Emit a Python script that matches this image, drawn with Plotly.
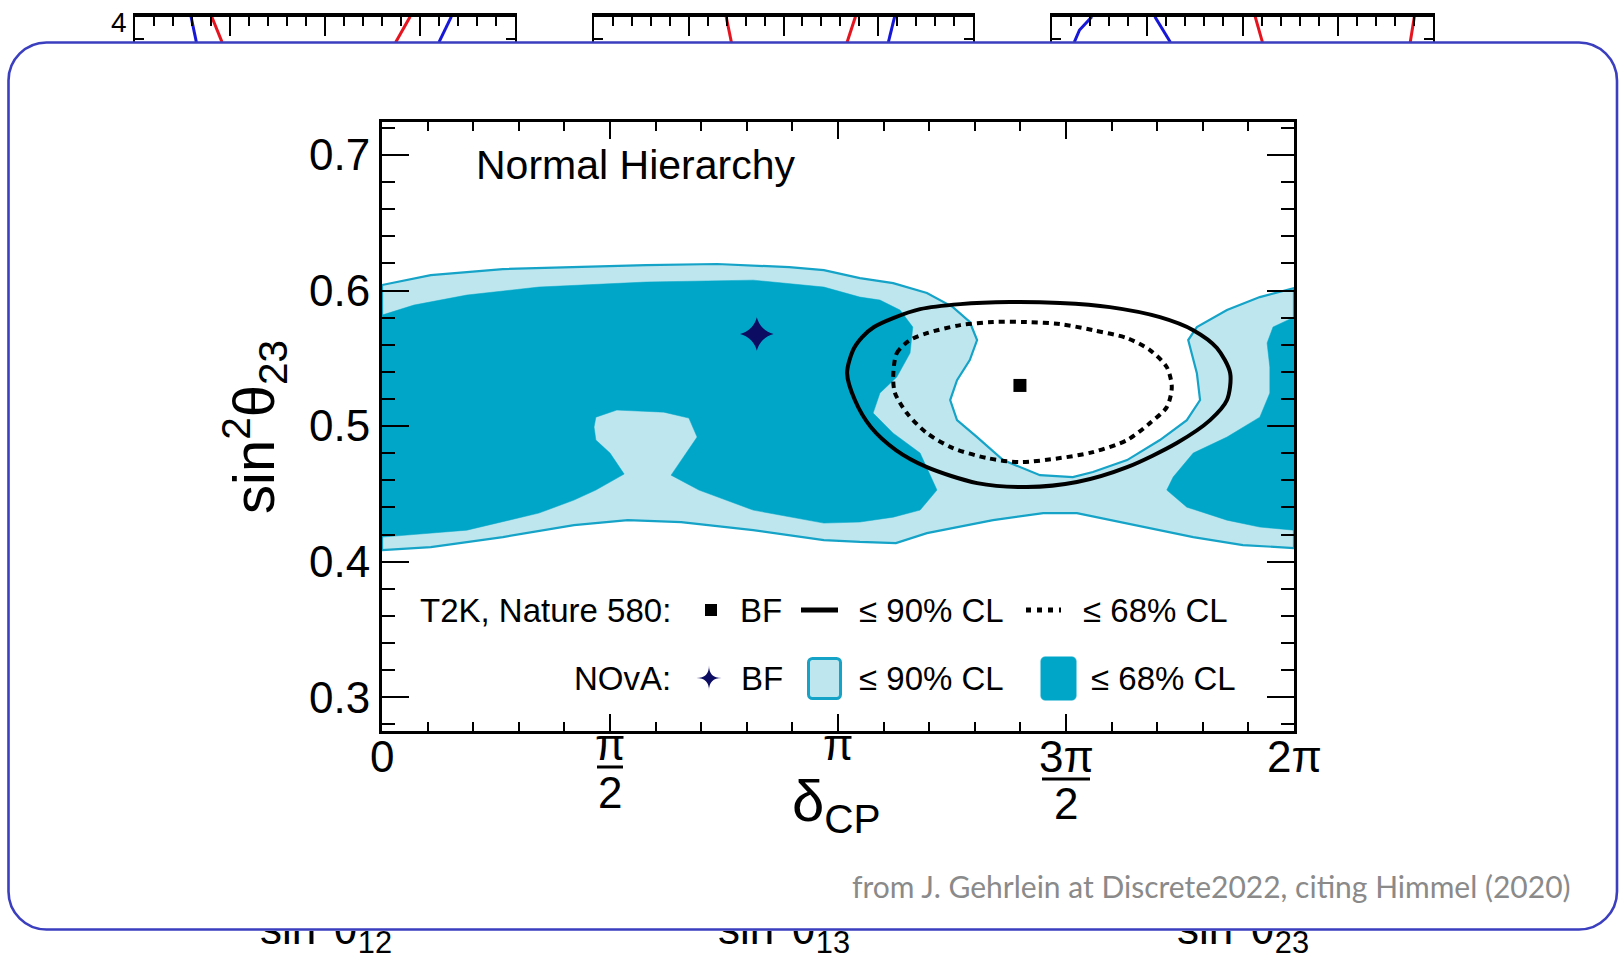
import numpy as np
import plotly.graph_objects as go

W, H = 1619, 964
SANS = "Liberation Sans, Arial, Helvetica, sans-serif"

# ---------------- NOvA 2020, normal hierarchy (delta_CP in units of pi) ----------------
# <= 90% CL band: upper edge left->right, then lower edge right->left
nova90_dcp = [0.0, 0.107, 0.265, 0.421, 0.579, 0.735, 0.893, 0.969, 1.048, 1.121, 1.195,
              1.252, 1.289, 1.305, 1.289, 1.261, 1.246, 1.261, 1.305, 1.362, 1.443, 1.515,
              1.559, 1.634, 1.706, 1.765, 1.794, 1.787, 1.768, 1.787, 1.853, 1.925, 2.0,
              2.0, 1.888, 1.779, 1.634, 1.524, 1.450, 1.340, 1.195, 1.127, 1.048, 0.969,
              0.814, 0.656, 0.539, 0.421, 0.265, 0.107, 0.0, 0.0]
nova90_s23 = [0.6041, 0.6114, 0.6159, 0.6173, 0.6188, 0.6196, 0.6173, 0.6151, 0.6092, 0.6055, 0.5982,
              0.5878, 0.5768, 0.5635, 0.5487, 0.5339, 0.5192, 0.5044, 0.4919, 0.4749, 0.4638, 0.4624,
              0.4661, 0.4749, 0.4897, 0.5044, 0.5192, 0.5391, 0.5635, 0.5731, 0.5856, 0.5952, 0.6018,
              0.4100, 0.4122, 0.4181, 0.4284, 0.4358, 0.4358, 0.4306, 0.4210, 0.4137, 0.4145, 0.4159,
              0.4232, 0.4292, 0.4306, 0.4269, 0.4181, 0.4107, 0.4085, 0.6041]

# <= 68% CL, main island
nova68a_dcp = [0.0, 0.070, 0.186, 0.344, 0.579, 0.814, 0.969, 1.048, 1.092, 1.136, 1.164,
               1.158, 1.129, 1.092, 1.077, 1.121, 1.180, 1.217, 1.180, 1.121, 1.048, 0.969,
               0.814, 0.695, 0.634, 0.664, 0.691, 0.673, 0.618, 0.515, 0.469, 0.465, 0.469,
               0.500, 0.531, 0.469, 0.421, 0.344, 0.186, 0.0]
nova68a_s23 = [0.5819, 0.5893, 0.5967, 0.6026, 0.6063, 0.6077, 0.6026, 0.5952, 0.5930, 0.5856, 0.5731,
               0.5539, 0.5362, 0.5244, 0.5096, 0.4948, 0.4801, 0.4528, 0.4380, 0.4328, 0.4292, 0.4284,
               0.4380, 0.4528, 0.4638, 0.4786, 0.4919, 0.5059, 0.5103, 0.5118, 0.5066, 0.4993, 0.4897,
               0.4801, 0.4646, 0.4528, 0.4454, 0.4358, 0.4232, 0.4181]

# <= 68% CL, island wrapping around 2 pi
nova68b_dcp = [2.0, 1.954, 1.941, 1.947, 1.947, 1.925, 1.853, 1.779, 1.735, 1.721, 1.765, 1.853, 1.925, 2.0]
nova68b_s23 = [0.5804, 0.5731, 0.5613, 0.5435, 0.5244, 0.5066, 0.4919, 0.4801, 0.4624, 0.4528,
               0.4402, 0.4306, 0.4255, 0.4232]

# ---------------- T2K, Nature 580 ----------------
t2k90_dcp = [1.020, 1.033, 1.053, 1.079, 1.121, 1.180, 1.268, 1.377, 1.487, 1.596, 1.706, 1.779,
             1.831, 1.860, 1.853, 1.816, 1.743, 1.634, 1.524, 1.414, 1.305, 1.195, 1.127, 1.072,
             1.037, 1.020]
t2k90_s23 = [0.5391, 0.5561, 0.5657, 0.5731, 0.5797, 0.5863, 0.5900, 0.5915, 0.5908, 0.5878, 0.5804, 0.5708,
             0.5576, 0.5391, 0.5192, 0.5044, 0.4875, 0.4697, 0.4587, 0.4550, 0.4579, 0.4697, 0.4823, 0.4993,
             0.5192, 0.5391]

t2k68_dcp = [1.121, 1.129, 1.158, 1.195, 1.268, 1.340, 1.414, 1.487, 1.559, 1.634, 1.684, 1.721,
             1.732, 1.721, 1.684, 1.634, 1.559, 1.487, 1.399, 1.327, 1.252, 1.195, 1.151, 1.125, 1.121]
t2k68_s23 = [0.5362, 0.5539, 0.5635, 0.5686, 0.5745, 0.5768, 0.5768, 0.5753, 0.5708, 0.5649, 0.5561, 0.5435,
             0.5288, 0.5140, 0.5022, 0.4897, 0.4808, 0.4764, 0.4734, 0.4764, 0.4838, 0.4948, 0.5096, 0.5244, 0.5362]

nova_bf_dcp, nova_bf_s23 = [0.822], [0.568]
t2k_bf_dcp, t2k_bf_s23 = [1.399], [0.530]

# ---------------- axes ----------------
S23_RANGE = [0.275, 0.7244]
S23_TICKS = [0.3, 0.4, 0.5, 0.6, 0.7]
DCP_MAJOR = [0.0, 0.5, 1.0, 1.5, 2.0]   # units of pi

# ---------------- 1D delta-chi2 panels along the top edge ----------------
top_panels = [
    dict(rng=[0.20, 0.40], dtick=0.05, minor=0.01,
         curves=[("blue", [0.2295, 0.2323], [4.0, 3.72]),
                 ("red", [0.2404, 0.2458], [4.0, 3.72]),
                 ("red", [0.3448, 0.3372], [4.0, 3.72]),
                 ("blue", [0.3665, 0.3600], [4.0, 3.72])]),
    dict(rng=[0.00, 0.04], dtick=0.01, minor=0.002,
         curves=[("red", [0.01395, 0.01450], [4.0, 3.72]),
                 ("red", [0.02759, 0.02671], [4.0, 3.72]),
                 ("blue", [0.03173, 0.03107], [4.0, 3.72])]),
    dict(rng=[0.30, 0.70], dtick=0.1, minor=0.02,
         curves=[("blue", [0.3419, 0.3289, 0.3234], [4.0, 3.854, 3.72]),
                 ("blue", [0.4080, 0.4243], [4.0, 3.72]),
                 ("red", [0.5133, 0.5209], [4.0, 3.72]),
                 ("red", [0.6804, 0.6761], [4.0, 3.72])]),
]
top_panel_px = [(135, 515), (594, 973), (1052, 1433)]
DCHI2_RANGE = [3.7165, 4.0]
bottom_titles = ["sin<sup>2</sup>θ<sub>12</sub>", "sin<sup>2</sup>θ<sub>13</sub>", "sin<sup>2</sup>θ<sub>23</sub>"]
bottom_title_x = [326, 784, 1243]

NOVA_DARK = "#00a6c8"
NOVA_LIGHT = "#bde6ef"
NOVA_EDGE = "#15a3c7"
STAR_BLUE = "#0c0c62"
CARD_BLUE = "#3b3fbf"
LINE_COLORS = {"red": "#e5141e", "blue": "#1717d8"}


def fx(px):
    return px / W


def fy(py):
    return 1 - py / H


pi = np.pi
fig = go.Figure()

# ---- main panel ----
fig.add_trace(go.Scatter(x=np.array(nova90_dcp) * pi, y=nova90_s23, mode="lines", fill="toself",
                         fillcolor=NOVA_LIGHT, line=dict(color=NOVA_EDGE, width=2.2),
                         hoverinfo="skip", showlegend=False))
for dcp, s23 in [(nova68a_dcp, nova68a_s23), (nova68b_dcp, nova68b_s23)]:
    fig.add_trace(go.Scatter(x=np.array(dcp) * pi, y=s23, mode="lines", fill="toself",
                             fillcolor=NOVA_DARK, line=dict(color=NOVA_DARK, width=0.5),
                             hoverinfo="skip", showlegend=False))
fig.add_trace(go.Scatter(x=np.array(t2k90_dcp) * pi, y=t2k90_s23, mode="lines",
                         line=dict(color="black", width=4, shape="spline", smoothing=0.8),
                         hoverinfo="skip", showlegend=False))
fig.add_trace(go.Scatter(x=np.array(t2k68_dcp) * pi, y=t2k68_s23, mode="lines",
                         line=dict(color="black", width=4, dash="6px,5px", shape="spline", smoothing=0.8),
                         hoverinfo="skip", showlegend=False))
fig.add_trace(go.Scatter(x=np.array(t2k_bf_dcp) * pi, y=t2k_bf_s23, mode="markers",
                         marker=dict(symbol="square", size=13, color="black"),
                         hoverinfo="skip", showlegend=False))
fig.add_trace(go.Scatter(x=np.array(nova_bf_dcp) * pi, y=nova_bf_s23, mode="markers",
                         marker=dict(symbol="star-diamond", size=24, color=STAR_BLUE, line=dict(width=0)),
                         hoverinfo="skip", showlegend=False))

main_x = dict(domain=[fx(382), fx(1294)], range=[0, 2 * pi], showline=True, linewidth=3,
              linecolor="black", mirror="ticks", ticks="inside", tickmode="array",
              tickvals=[v * pi for v in DCP_MAJOR], ticklen=17, tickwidth=2, tickcolor="black",
              showticklabels=False, showgrid=False, zeroline=False, fixedrange=True,
              minor=dict(tickmode="linear", tick0=0, dtick=pi / 10, ticks="inside", ticklen=9,
                         tickwidth=2, tickcolor="black", showgrid=False))
main_y = dict(domain=[fy(731), fy(122)], range=S23_RANGE, showline=True, linewidth=3,
              linecolor="black", mirror="ticks", ticks="inside", tickmode="array",
              tickvals=S23_TICKS, ticktext=[f"{v:.1f}" for v in S23_TICKS], ticklen=27,
              tickwidth=2, tickcolor="black", showgrid=False, zeroline=False, fixedrange=True,
              tickfont=dict(family=SANS, size=44, color="black"),
              minor=dict(tickmode="linear", tick0=0.3, dtick=0.02, ticks="inside", ticklen=13,
                         tickwidth=2, tickcolor="black", showgrid=False))

layout_axes = {"xaxis": main_x, "yaxis": main_y}

# ---- top strip of delta-chi2 panels ----
for i, (panel, (x0, x1)) in enumerate(zip(top_panels, top_panel_px)):
    n = i + 3
    for color, xs, ys in panel["curves"]:
        fig.add_trace(go.Scatter(x=xs, y=ys, mode="lines", xaxis=f"x{n}", yaxis=f"y{n}",
                                 line=dict(color=LINE_COLORS[color], width=3),
                                 hoverinfo="skip", showlegend=False))
    layout_axes[f"xaxis{n}"] = dict(domain=[fx(x0), fx(x1)], range=panel["rng"], side="top",
                                    anchor=f"y{n}", showline=True, linewidth=3.5, linecolor="black",
                                    ticks="inside", tickmode="linear", tick0=0, dtick=panel["dtick"],
                                    ticklen=19, tickwidth=2, tickcolor="black", showticklabels=False,
                                    showgrid=False, zeroline=False, fixedrange=True,
                                    minor=dict(tickmode="linear", tick0=0, dtick=panel["minor"],
                                               ticks="inside", ticklen=9, tickwidth=2,
                                               tickcolor="black", showgrid=False))
    layout_axes[f"yaxis{n}"] = dict(domain=[fy(42.5), fy(16.7)], range=DCHI2_RANGE, anchor=f"x{n}",
                                    showline=True, linewidth=2.2, linecolor="black", mirror="ticks",
                                    ticks="inside", tickmode="linear", tick0=0, dtick=1, ticklen=12,
                                    tickwidth=2, tickcolor="black", showticklabels=False,
                                    showgrid=False, zeroline=False, fixedrange=True,
                                    minor=dict(tickmode="linear", tick0=0, dtick=0.25, ticks="inside",
                                               ticklen=9, tickwidth=2, tickcolor="black",
                                               showgrid=False))

# ---- titles of the lower panels, partly hidden behind the card ----
fig.add_trace(go.Scatter(x=bottom_title_x, y=[933] * 3, mode="text", text=bottom_titles,
                         textposition="middle center", cliponaxis=True,
                         textfont=dict(family=SANS, size=44, color="black"),
                         xaxis="x6", yaxis="y6", hoverinfo="skip", showlegend=False))
layout_axes["xaxis6"] = dict(domain=[0, 1], range=[0, W], anchor="y6", visible=False, fixedrange=True)
layout_axes["yaxis6"] = dict(domain=[0, fy(931)], range=[H, 931], anchor="x6", visible=False,
                             fixedrange=True)

# ---- annotations ----
def ann(text, x, y, size, xanchor="center", yanchor="middle", color="black",
        family=SANS, angle=0):
    return dict(text=text, x=fx(x), y=fy(y), xref="paper", yref="paper", xanchor=xanchor,
                yanchor=yanchor, showarrow=False, textangle=angle,
                font=dict(size=size, color=color, family=family))


annotations = [
    ann("Normal Hierarchy", 474, 165, 41, xanchor="left"),
    # x tick labels
    ann("0", 382, 756, 44),
    ann("π", 610, 744, 44),
    ann("2", 610, 792, 44),
    ann("π", 838, 744, 44),
    ann("3π", 1066, 756, 44),
    ann("2", 1066, 803, 44),
    ann("2π", 1294, 756, 44),
    # axis titles
    ann("δ<sub>CP</sub>", 836, 805, 58),
    ann("sin<sup>2</sup>θ<sub>23</sub>", 254, 427, 58, angle=-90),
    # legend
    ann("T2K, Nature 580:", 673, 610, 33, xanchor="right"),
    ann("BF", 738, 610, 33, xanchor="left"),
    ann("≤ 90% CL", 857, 610, 33, xanchor="left"),
    ann("≤ 68% CL", 1081, 610, 33, xanchor="left"),
    ann("NOvA:", 673, 678, 33, xanchor="right"),
    ann("BF", 739, 678, 33, xanchor="left"),
    ann("≤ 90% CL", 857, 678, 33, xanchor="left"),
    ann("≤ 68% CL", 1089, 678, 33, xanchor="left"),
    # top strip label
    ann("4", 119, 22, 28),
    # source note
    ann("from J. Gehrlein at Discrete2022, citing Himmel (2020)", 1573, 886, 30,
        xanchor="right", color="#8a8a8a", family="Lato, Open Sans, sans-serif"),
]


def rounded_rect_path(x0, y0, x1, y1, r):
    k = 0.5523 * r
    pts = [
        f"M {fx(x0 + r)},{fy(y0)}",
        f"L {fx(x1 - r)},{fy(y0)}",
        f"C {fx(x1 - r + k)},{fy(y0)} {fx(x1)},{fy(y0 + r - k)} {fx(x1)},{fy(y0 + r)}",
        f"L {fx(x1)},{fy(y1 - r)}",
        f"C {fx(x1)},{fy(y1 - r + k)} {fx(x1 - r + k)},{fy(y1)} {fx(x1 - r)},{fy(y1)}",
        f"L {fx(x0 + r)},{fy(y1)}",
        f"C {fx(x0 + r - k)},{fy(y1)} {fx(x0)},{fy(y1 - r + k)} {fx(x0)},{fy(y1 - r)}",
        f"L {fx(x0)},{fy(y0 + r)}",
        f"C {fx(x0)},{fy(y0 + r - k)} {fx(x0 + r - k)},{fy(y0)} {fx(x0 + r)},{fy(y0)}",
        "Z",
    ]
    return " ".join(pts)


def star_path(cx, cy, r):
    return (f"M {fx(cx)},{fy(cy - r)} Q {fx(cx)},{fy(cy)} {fx(cx + r)},{fy(cy)} "
            f"Q {fx(cx)},{fy(cy)} {fx(cx)},{fy(cy + r)} "
            f"Q {fx(cx)},{fy(cy)} {fx(cx - r)},{fy(cy)} "
            f"Q {fx(cx)},{fy(cy)} {fx(cx)},{fy(cy - r)} Z")


shapes = [
    # card outline
    dict(type="path", xref="paper", yref="paper", path=rounded_rect_path(8.5, 42.5, 1617, 929.5, 38),
         line=dict(color=CARD_BLUE, width=2.6), fillcolor="rgba(0,0,0,0)", layer="above"),
    # legend keys
    dict(type="rect", xref="paper", yref="paper", x0=fx(705), x1=fx(717), y0=fy(616), y1=fy(604),
         fillcolor="black", line=dict(width=0), layer="above"),
    dict(type="line", xref="paper", yref="paper", x0=fx(801), x1=fx(838), y0=fy(610), y1=fy(610),
         line=dict(color="black", width=5), layer="above"),
    dict(type="line", xref="paper", yref="paper", x0=fx(1026), x1=fx(1061), y0=fy(610), y1=fy(610),
         line=dict(color="black", width=5, dash="5px,6px"), layer="above"),
    dict(type="path", xref="paper", yref="paper", path=star_path(709, 678, 12.5),
         fillcolor=STAR_BLUE, line=dict(width=0), layer="above"),
    dict(type="path", xref="paper", yref="paper", path=rounded_rect_path(808.5, 658.5, 840.5, 698.5, 4),
         fillcolor=NOVA_LIGHT, line=dict(color=NOVA_EDGE, width=3), layer="above"),
    dict(type="path", xref="paper", yref="paper", path=rounded_rect_path(1041, 657, 1076, 700, 4),
         fillcolor=NOVA_DARK, line=dict(color=NOVA_DARK, width=1), layer="above"),
    # fraction bars of the pi/2 and 3pi/2 tick labels
    dict(type="line", xref="paper", yref="paper", x0=fx(597), x1=fx(623), y0=fy(767), y1=fy(767),
         line=dict(color="black", width=3), layer="above"),
    dict(type="line", xref="paper", yref="paper", x0=fx(1042), x1=fx(1090), y0=fy(779), y1=fy(779),
         line=dict(color="black", width=3), layer="above"),
]

fig.update_layout(
    width=W, height=H, autosize=False,
    margin=dict(l=0, r=0, t=0, b=0, pad=0),
    paper_bgcolor="white", plot_bgcolor="rgba(0,0,0,0)",
    font=dict(family=SANS, color="black"),
    showlegend=False,
    annotations=annotations,
    shapes=shapes,
    **layout_axes,
)

fig.write_html("out.html", config={"displayModeBar": False, "staticPlot": True})
